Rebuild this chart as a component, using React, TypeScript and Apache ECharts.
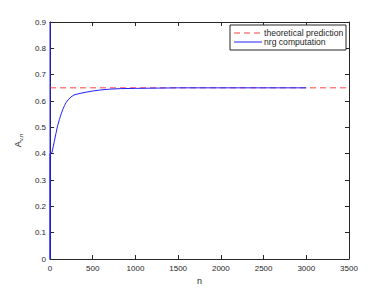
import React, { useEffect, useRef } from "react";
import * as echarts from "echarts";

const xTicksMax = 3500;
const yMax = 0.9;
const theoryValue = 0.65;
const theoryRange = [0, 3500];

const nValues = [0, 0, 0, 23, 50, 70, 86, 110, 133, 150, 170, 190, 211, 245, 281, 340, 398, 500, 593, 700, 828, 1000, 1250, 1500, 2000, 2500, 3000];
const aValues = [0.9, 0, 0.4, 0.404, 0.446, 0.477, 0.502, 0.53, 0.553, 0.568, 0.583, 0.595, 0.604, 0.615, 0.623, 0.628, 0.632, 0.638, 0.642, 0.645, 0.647, 0.648, 0.649, 0.65, 0.65, 0.65, 0.65];

const legendNames = ["theoretical prediction", "nrg computation"];

const FONT = "Liberation Sans";
const AX = "#262626";
const RED = "#ff4040";
const BLUE = "#2020ff";

export default function App() {
  const ref = useRef<HTMLDivElement>(null);
  useEffect(() => {
    const chart = echarts.init(ref.current!, null, { renderer: "svg" });
    const nrg = nValues.map((n, i) => [n, aValues[i]]);
    const theory = theoryRange.map((n) => [n, theoryValue]);
    const tickStyle = { inside: true, length: 4, lineStyle: { color: AX } };
    const lx = 230, ly = 25, lw = 116, lh = 25;
    chart.setOption({
      animation: false,
      backgroundColor: "#fff",
      grid: { left: 50, right: 39, top: 22, bottom: 33 },
      xAxis: [
        {
          type: "value",
          min: 0,
          max: xTicksMax,
          interval: 500,
          name: "n",
          nameLocation: "middle",
          nameGap: 17,
          nameTextStyle: { fontFamily: FONT, fontSize: 9, color: AX },
          axisLine: { show: true, lineStyle: { color: AX } },
          axisTick: tickStyle,
          axisLabel: { fontFamily: FONT, fontSize: 8, color: AX, margin: 5, formatter: (v: number) => String(v) },
          splitLine: { show: false },
        },
        {
          type: "value",
          position: "top",
          min: 0,
          max: xTicksMax,
          interval: 500,
          axisLine: { show: true, onZero: false, lineStyle: { color: AX } },
          axisTick: tickStyle,
          axisLabel: { show: false },
          splitLine: { show: false },
        },
      ],
      yAxis: [
        {
          type: "value",
          min: 0,
          max: yMax,
          interval: 0.1,
          name: "A{sub|v,n}",
          nameLocation: "middle",
          nameGap: 24,
          nameTextStyle: {
            fontFamily: FONT,
            fontSize: 9,
            color: AX,
            rich: { sub: { fontFamily: FONT, fontSize: 6, color: AX, verticalAlign: "bottom", padding: [6, 0, 0, 0] } },
          },
          axisLine: { show: true, lineStyle: { color: AX } },
          axisTick: tickStyle,
          axisLabel: {
            fontFamily: FONT,
            fontSize: 8,
            color: AX,
            margin: 4,
            formatter: (v: number) => (v === 0 ? "0" : String(Math.round(v * 10) / 10)),
          },
          splitLine: { show: false },
        },
        {
          type: "value",
          position: "right",
          min: 0,
          max: yMax,
          interval: 0.1,
          axisLine: { show: true, onZero: false, lineStyle: { color: AX } },
          axisTick: tickStyle,
          axisLabel: { show: false },
          splitLine: { show: false },
        },
      ],
      series: [
        {
          name: legendNames[0],
          type: "line",
          data: theory,
          showSymbol: false,
          symbol: "none",
          lineStyle: { color: RED, width: 1, type: [6, 4] },
        },
        {
          name: legendNames[1],
          type: "line",
          data: nrg,
          showSymbol: false,
          symbol: "none",
          clip: true,
          lineStyle: { color: BLUE, width: 1 },
        },
        {
          name: "frame",
          type: "line",
          xAxisIndex: 1,
          yAxisIndex: 1,
          data: [],
          showSymbol: false,
        },
      ],
      graphic: [
        {
          type: "rect",
          shape: { x: lx, y: ly, width: lw, height: lh },
          style: { fill: "#fff", stroke: AX, lineWidth: 1 },
          z: 10,
        },
        {
          type: "line",
          shape: { x1: lx + 4, y1: ly + 8, x2: lx + 32, y2: ly + 8 },
          style: { stroke: RED, lineWidth: 1, lineDash: [6, 4] },
          z: 11,
        },
        {
          type: "line",
          shape: { x1: lx + 4, y1: ly + 17, x2: lx + 32, y2: ly + 17 },
          style: { stroke: BLUE, lineWidth: 1 },
          z: 11,
        },
        {
          type: "text",
          x: lx + 34,
          y: ly + 8,
          style: { text: legendNames[0], fontFamily: FONT, fontSize: 8.6, fill: AX, verticalAlign: "middle" },
          z: 11,
        },
        {
          type: "text",
          x: lx + 34,
          y: ly + 17,
          style: { text: legendNames[1], fontFamily: FONT, fontSize: 8.6, fill: AX, verticalAlign: "middle" },
          z: 11,
        },
      ],
    });
    return () => chart.dispose();
  }, []);
  return <div ref={ref} style={{ width: 388, height: 292, position: "absolute", left: 0, top: 0 }} />;
}
